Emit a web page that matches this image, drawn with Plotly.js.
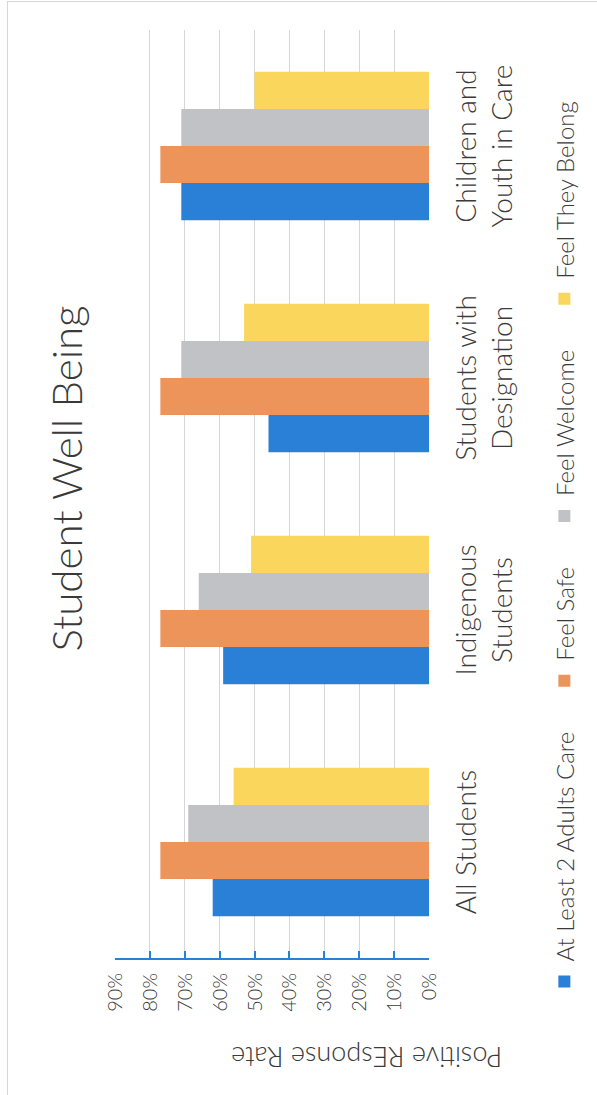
<!DOCTYPE html>
<html>
<head>
<meta charset="utf-8">
<script src="https://cdn.plot.ly/plotly-3.0.1.min.js"></script>
<style>
  html, body { margin: 0; padding: 0; background: #ffffff; overflow: hidden; }
  /* the chart is laid out landscape and turned a quarter turn counter-clockwise */
  #stage {
    position: absolute; left: 0; top: 0;
    width: 1095px; height: 597px;
    transform-origin: 0 0;
    transform: translate(0, 1095px) rotate(-90deg);
  }
  #frame {
    position: absolute; left: 0; top: 7px;
    width: 1093px; height: 600px;
    border-top: 1px solid #d6d6d6; border-right: 1px solid #d6d6d6;
    pointer-events: none;
  }
</style>
</head>
<body>
<div id="stage"><div id="chart"></div><div id="frame"></div></div>
<script>
// Survey groups along the category axis
const categories = [
  'All Students',
  'Indigenous<br>Students',
  'Students with<br>Designation',
  'Children and<br>Youth in Care'
];

// Positive response rate per group
const atLeast2AdultsCare = [0.62, 0.59, 0.46, 0.71];
const feelSafe           = [0.77, 0.77, 0.77, 0.77];
const feelWelcome        = [0.69, 0.66, 0.71, 0.71];
const feelTheyBelong     = [0.56, 0.51, 0.53, 0.50];

const seriesNames = ['At Least 2 Adults Care', 'Feel Safe', 'Feel Welcome', 'Feel They Belong'];
const seriesColors = ['#2a7fd6', '#ec9459', '#c0c2c5', '#fbd65c'];

// Value axis ticks
const tickValues = [0, 0.1, 0.2, 0.3, 0.4, 0.5, 0.6, 0.7, 0.8, 0.9];
const tickLabels = ['0%', '10%', '20%', '30%', '40%', '50%', '60%', '70%', '80%', '90%'];

const FONT = 'Lato, "Open Sans", "DejaVu Sans", sans-serif';
const TEXT = '#3a3a3a';
const AXIS_BLUE = '#2a7fd6';

// a little extra room after each legend entry except the last one
const LEGEND_PAD = '\u00a0'.repeat(4);

const seriesValues = [atLeast2AdultsCare, feelSafe, feelWelcome, feelTheyBelong];
const traces = seriesValues.map((vals, i) => ({
  type: 'bar',
  name: seriesNames[i] + (i < seriesNames.length - 1 ? LEGEND_PAD : ''),
  x: categories,
  y: vals,
  marker: { color: seriesColors[i], line: { width: 0 } },
  hoverinfo: 'skip'
}));

const layout = {
  width: 1095,
  height: 597,
  margin: { l: 137, r: 30, t: 115, b: 168 },
  paper_bgcolor: 'rgba(0,0,0,0)',
  plot_bgcolor: 'rgba(0,0,0,0)',
  font: { family: FONT, color: TEXT, weight: 300 },
  barmode: 'group',
  bargap: 0.36,
  bargroupgap: 0,
  title: {
    text: 'Student Well Being',
    font: { family: FONT, size: 42, color: TEXT, weight: 300 },
    xref: 'container', x: 0.563, xanchor: 'center',
    yref: 'container', y: 0.888, yanchor: 'middle'
  },
  xaxis: {
    type: 'category',
    showline: false,
    showgrid: false,
    zeroline: false,
    ticks: '',
    tickfont: { family: FONT, size: 28, color: TEXT, weight: 300 },
    ticklabelstandoff: 18,
    fixedrange: true
  },
  yaxis: {
    range: [0, 0.9],
    tickvals: tickValues,
    ticktext: tickLabels,
    showgrid: true,
    gridcolor: '#d6d6d6',
    gridwidth: 1,
    zeroline: false,
    showline: true,
    linecolor: AXIS_BLUE,
    linewidth: 2,
    ticks: 'inside',
    ticklen: 7,
    tickwidth: 2,
    tickcolor: AXIS_BLUE,
    tickfont: { family: FONT, size: 20, color: TEXT, weight: 300 },
    ticklabelstandoff: 9,
    fixedrange: true
  },
  legend: {
    orientation: 'h',
    xref: 'container', x: 0.499, xanchor: 'center',
    yref: 'container', y: 0.054, yanchor: 'middle',
    font: { family: FONT, size: 24, color: TEXT, weight: 300 },
    itemclick: false, itemdoubleclick: false,
    traceorder: 'normal'
  },
  annotations: [{
    text: 'Positive REsponse Rate',
    xref: 'paper', yref: 'paper',
    x: -0.107, y: 0.199,
    xanchor: 'center', yanchor: 'middle',
    textangle: -90,
    showarrow: false,
    font: { family: FONT, size: 27, color: TEXT, weight: 300 }
  }]
};

Plotly.newPlot('chart', traces, layout, { staticPlot: true, displayModeBar: false });
</script>
</body>
</html>
